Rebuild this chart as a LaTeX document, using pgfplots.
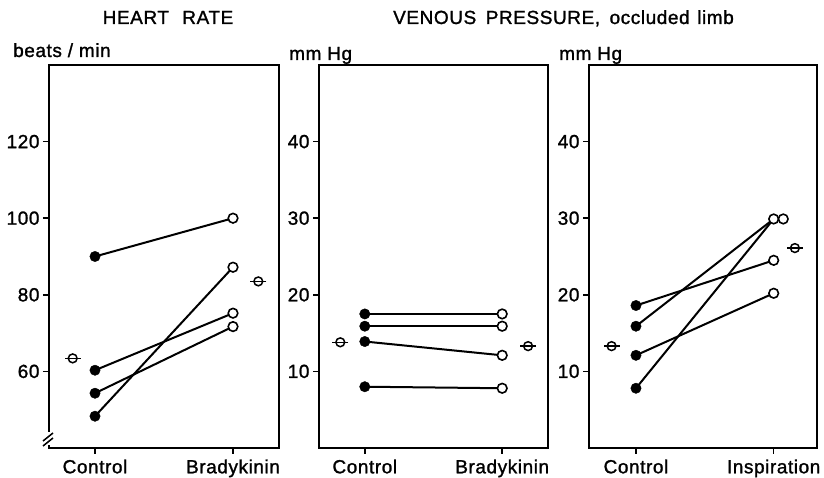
\documentclass[border=0pt]{standalone}
\usepackage{pgfplots}
\pgfplotsset{compat=1.18}
\usepackage{fontspec}
\setmainfont{Liberation Sans}[UprightFeatures={FakeBold=1.3}, LetterSpace=3]
\newcommand{\bigf}{\fontsize{19}{19}\selectfont}
\begin{document}
\begin{tikzpicture}[x=1pt,y=1pt]
\useasboundingbox (0pt,0pt) rectangle (824pt,478pt);
\pgfplotsset{
  panel/.style={scale only axis, width=230pt, height=383pt, anchor=south west,
    xmin=0, xmax=1, clip=false,
    axis line style={line width=1.6pt},
    every tick/.style={line width=1.6pt, black},
    tick align=outside, major tick length=6pt,
    xtick pos=bottom, ytick pos=left,
    ticklabel style={font=\bigf},
    /pgf/number format/assume math mode=true,
    xticklabel style={yshift=-2pt},
  },
}
\tikzset{
  ln/.style={line width=2pt, black, mark=none},
  ctl/.style={mark=*, mark size=5.2pt, black},
  trt/.style={mark=*, mark size=4.8pt, mark options={fill=white, draw=black, line width=1.6pt}},
  mncirc/.style={mark=o, mark size=4.4pt, mark options={line width=1.5pt, draw=black}},
  mndash/.style={mark=-, mark size=8pt, mark options={line width=1.5pt, draw=black}},
}
% Panel 1: heart rate
\begin{axis}[panel, at={(49pt,30pt)}, ymin=40, ymax=140, ytick={60,80,100,120},
  xtick={0.2,0.8}, xticklabels={Control,Bradykinin}]
\addplot[ln] coordinates {(0.2,90) (0.8,100)};
\addplot[ln] coordinates {(0.2,60.3) (0.8,75.2)};
\addplot[ln] coordinates {(0.2,54.3) (0.8,71.7)};
\addplot[ln] coordinates {(0.2,48.3) (0.8,87.2)};
\addplot[only marks, ctl] coordinates {(0.2,90) (0.2,60.3) (0.2,54.3) (0.2,48.3)};
\addplot[only marks, trt] coordinates {(0.8,100) (0.8,75.2) (0.8,71.7) (0.8,87.2)};
\addplot[only marks, mncirc] coordinates {(0.103,63.4) (0.91,83.5)};
\addplot[only marks, mndash] coordinates {(0.103,63.4) (0.91,83.5)};
\end{axis}
% axis break
\fill[white] (45pt,33pt) rectangle (53pt,46pt);
\draw[line width=1.5pt] (43pt,37pt) -- (53pt,45pt);
\draw[line width=1.5pt] (43pt,32pt) -- (53pt,40pt);
% Panel 2: venous pressure, bradykinin
\begin{axis}[panel, at={(319pt,30pt)}, width=229pt, ymin=0, ymax=50, ytick={10,20,30,40},
  xtick={0.2,0.8}, xticklabels={Control,Bradykinin}]
\addplot[ln] coordinates {(0.2,17.5) (0.8,17.5)};
\addplot[ln] coordinates {(0.2,15.9) (0.8,15.9)};
\addplot[ln] coordinates {(0.2,13.9) (0.8,12.1)};
\addplot[ln] coordinates {(0.2,8.0) (0.8,7.8)};
\addplot[only marks, ctl] coordinates {(0.2,17.5) (0.2,15.9) (0.2,13.9) (0.2,8.0)};
\addplot[only marks, trt] coordinates {(0.8,17.5) (0.8,15.9) (0.8,12.1) (0.8,7.8)};
\addplot[only marks, mncirc] coordinates {(0.093,13.8) (0.913,13.3)};
\addplot[only marks, mndash] coordinates {(0.093,13.8) (0.913,13.3)};
\end{axis}
% Panel 3: venous pressure, inspiration
\begin{axis}[panel, at={(589pt,30pt)}, width=228pt, ymin=0, ymax=50, ytick={10,20,30,40},
  xtick={0.206,0.81}, xticklabels={Control,Inspiration}]
\addplot[ln] coordinates {(0.206,18.6) (0.81,24.5)};
\addplot[ln] coordinates {(0.206,15.9) (0.81,29.9)};
\addplot[ln] coordinates {(0.206,12.1) (0.81,20.2)};
\addplot[ln] coordinates {(0.206,7.8) (0.81,29.9)};
\addplot[only marks, ctl] coordinates {(0.206,18.6) (0.206,15.9) (0.206,12.1) (0.206,7.8)};
\addplot[only marks, trt] coordinates {(0.81,24.5) (0.81,29.9) (0.81,20.2) (0.852,29.9)};
\addplot[only marks, mncirc] coordinates {(0.099,13.3) (0.903,26.1)};
\addplot[only marks, mndash] coordinates {(0.099,13.3) (0.903,26.1)};
\end{axis}
% titles and units
\node[anchor=base, inner sep=0pt] at (168pt,454pt) {\bigf HEART\hspace{0.7em}RATE};
\node[anchor=base, inner sep=0pt] at (563.5pt,454pt) {\bigf VENOUS\hspace{0.5em}PRESSURE,\hspace{0.5em}occluded\hspace{0.4em}limb};
\node[anchor=base west, inner sep=0pt] at (13pt,421pt) {\bigf beats / min};
\node[anchor=base west, inner sep=0pt] at (289pt,418pt) {\bigf mm Hg};
\node[anchor=base west, inner sep=0pt] at (559pt,418pt) {\bigf mm Hg};
\end{tikzpicture}
\end{document}
